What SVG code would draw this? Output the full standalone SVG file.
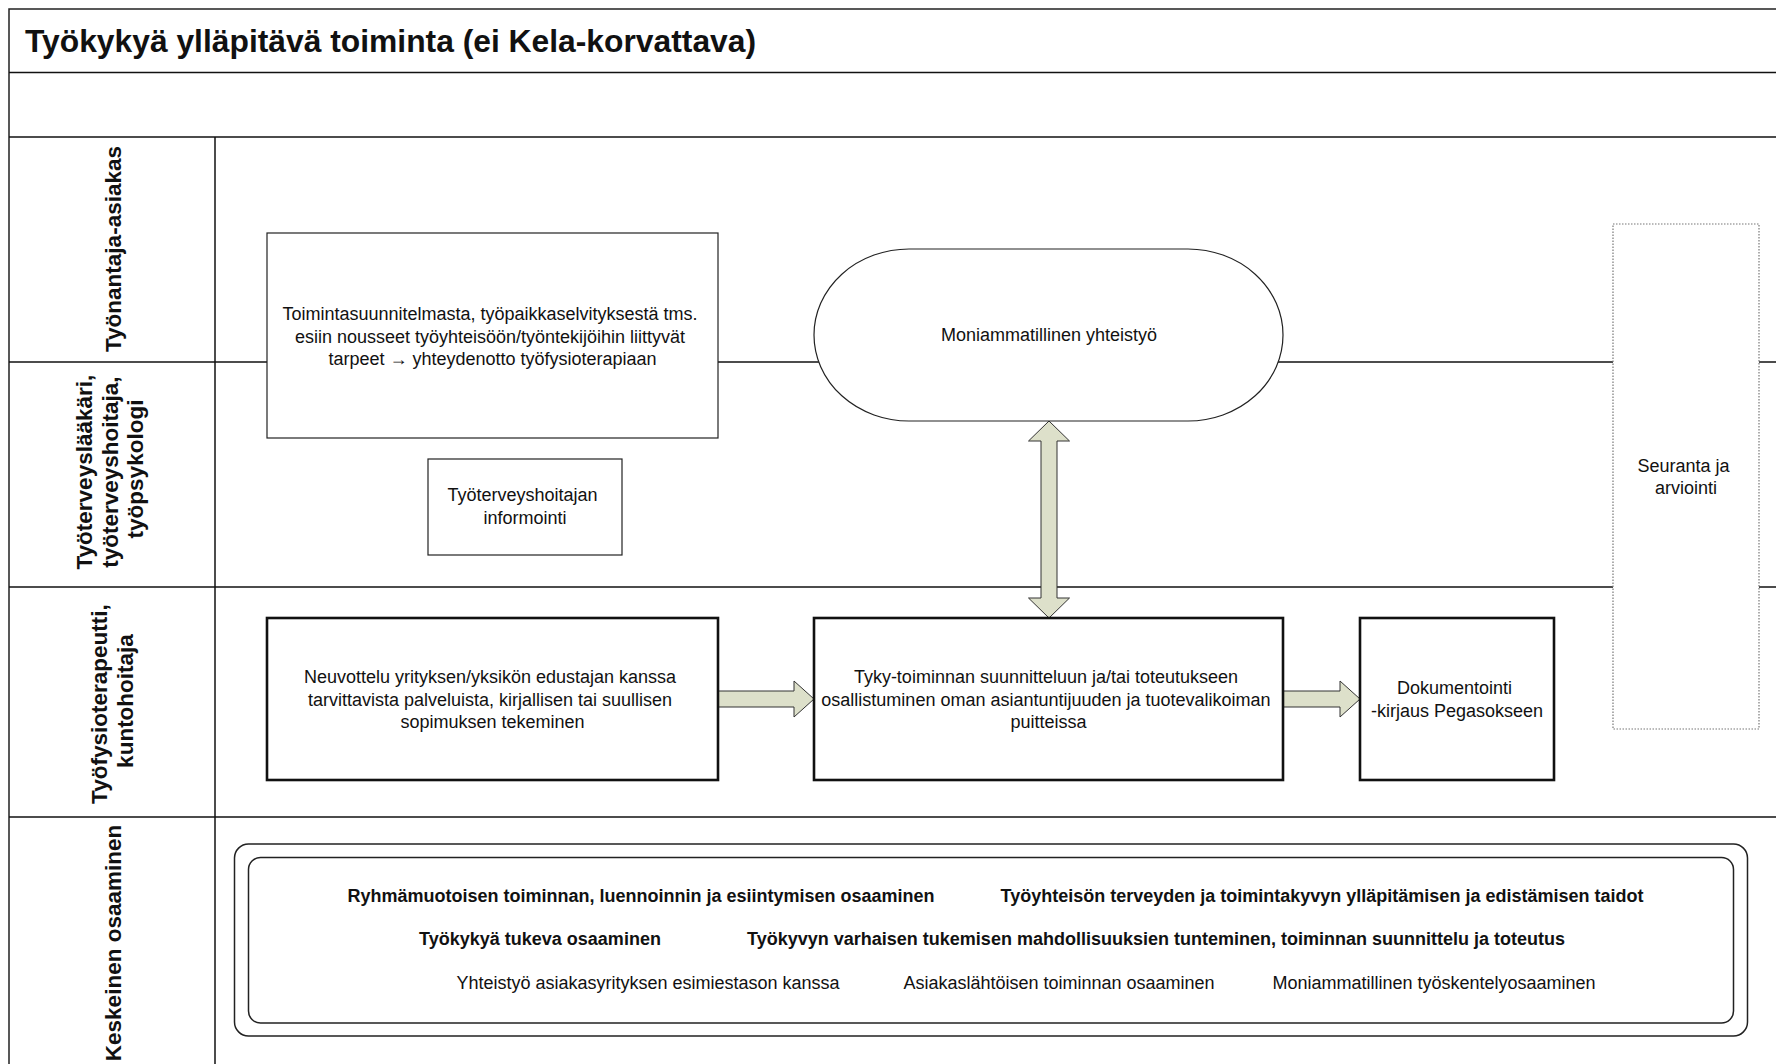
<svg xmlns="http://www.w3.org/2000/svg" width="1776" height="1064" viewBox="0 0 1776 1064">
  <style>
    .frame { fill: none; stroke: #222; stroke-width: 1.5; }
    .lane { stroke: #111; stroke-width: 1.5; }
    .box { fill: #fff; stroke: #222; stroke-width: 1.2; }
    .boxb { fill: #fff; stroke: #111; stroke-width: 2.6; }
    .dotted { fill: #fff; stroke: #777; stroke-width: 1.2; stroke-dasharray: 1.5 1.5; }
    .arrow { fill: #dde0ca; stroke: #333; stroke-width: 1; }
    .t { font-family: "Liberation Sans", Arial, sans-serif; font-size: 18px; fill: #111; text-anchor: middle; }
    .tb { font-family: "Liberation Sans", Arial, sans-serif; font-size: 18px; font-weight: bold; fill: #111; text-anchor: middle; }
    .lbl { font-family: "Liberation Sans", Arial, sans-serif; font-size: 22.5px; font-weight: bold; fill: #111; text-anchor: middle; }
    .title { font-family: "Liberation Sans", Arial, sans-serif; font-size: 31.8px; font-weight: bold; fill: #111; }
  </style>

  <rect width="1776" height="1064" fill="#fff"/>

  <!-- pool frame, title bar, header band and lane dividers -->
  <g id="pool">
    <rect class="frame" x="9" y="9" width="1800" height="1100"/>
    <line class="lane" x1="9" y1="72.5" x2="1776" y2="72.5"/>
    <line class="lane" x1="9" y1="137" x2="1776" y2="137"/>
    <line class="lane" x1="215" y1="137" x2="215" y2="1064"/>
    <line class="lane" x1="9" y1="362" x2="1776" y2="362"/>
    <line class="lane" x1="9" y1="587" x2="1776" y2="587"/>
    <line class="lane" x1="9" y1="817" x2="1776" y2="817"/>
    <text class="title" x="25" y="52">Työkykyä ylläpitävä toiminta (ei Kela-korvattava)</text>
  </g>

  <!-- lane headings -->
  <g id="lane-labels">
    <text class="lbl" transform="translate(121,249) rotate(-90)">Työnantaja-asiakas</text>
    <text class="lbl" transform="translate(92,469) rotate(-90)">
      <tspan x="0" y="0">Työterveyslääkäri,</tspan>
      <tspan x="0" y="25.5">työterveyshoitaja,</tspan>
      <tspan x="0" y="51">työpsykologi</tspan>
    </text>
    <text class="lbl" transform="translate(107,701) rotate(-90)">
      <tspan x="0" y="0">Työfysioterapeutti,</tspan>
      <tspan x="0" y="25.5">kuntohoitaja</tspan>
    </text>
    <text class="lbl" transform="translate(121,943) rotate(-90)">Keskeinen osaaminen</text>
  </g>

  <!-- connectors -->
  <g id="connectors">
    <!-- two-way block arrow between the meeting and the Tyky task -->
    <path class="arrow" d="M1049,421 L1069.5,441 L1057,441 L1057,598 L1069.5,598 L1049,618 L1028.5,598 L1041,598 L1041,441 L1028.5,441 Z"/>
    <!-- block arrow: negotiation to Tyky task -->
    <path class="arrow" d="M718,691 L794,691 L794,681 L814,699 L794,717 L794,707 L718,707 Z"/>
    <!-- block arrow: Tyky task to documentation -->
    <path class="arrow" d="M1283,691 L1340,691 L1340,681 L1360,699 L1340,717 L1340,707 L1283,707 Z"/>
  </g>

  <g id="needs">
    <rect class="box" x="267" y="233" width="451" height="205"/>
    <text class="t" x="492.5" y="320">
      <tspan x="492.5" y="320">Toimintasuunnitelmasta, työpaikkaselvityksestä tms.</tspan>
      <tspan x="492.5" y="342.5">esiin nousseet työyhteisöön/työntekijöihin liittyvät</tspan>
      <tspan x="492.5" y="365">tarpeet → yhteydenotto työfysioterapiaan</tspan>
    </text>
  </g>

  <g id="nurse-info">
    <rect class="box" x="428" y="459" width="194" height="96"/>
    <text class="t" x="525" y="501">
      <tspan x="525" y="501">Työterveyshoitajan</tspan>
      <tspan x="525" y="524">informointi</tspan>
    </text>
  </g>

  <g id="collaboration">
    <rect class="box" x="814" y="249" width="469" height="172" rx="95" ry="86"/>
    <text class="t" x="1049" y="341">Moniammatillinen yhteistyö</text>
  </g>

  <g id="follow-up">
    <rect class="dotted" x="1613" y="224" width="146" height="505"/>
    <text class="t" x="1686" y="472">
      <tspan x="1686" y="472">Seuranta ja</tspan>
      <tspan x="1686" y="494">arviointi</tspan>
    </text>
  </g>

  <g id="negotiation">
    <rect class="boxb" x="267" y="618" width="451" height="162"/>
    <text class="t" x="492.5" y="683">
      <tspan x="492.5" y="683">Neuvottelu yrityksen/yksikön edustajan kanssa</tspan>
      <tspan x="492.5" y="705.5">tarvittavista palveluista, kirjallisen tai suullisen</tspan>
      <tspan x="492.5" y="728">sopimuksen tekeminen</tspan>
    </text>
  </g>

  <g id="tyky-task">
    <rect class="boxb" x="814" y="618" width="469" height="162"/>
    <text class="t" x="1048.5" y="683">
      <tspan x="1048.5" y="683">Tyky-toiminnan suunnitteluun ja/tai toteutukseen</tspan>
      <tspan x="1048.5" y="705.5">osallistuminen oman asiantuntijuuden ja tuotevalikoiman</tspan>
      <tspan x="1048.5" y="728">puitteissa</tspan>
    </text>
  </g>

  <g id="documentation">
    <rect class="boxb" x="1360" y="618" width="194" height="162"/>
    <text class="t" x="1457" y="694">
      <tspan x="1457" y="694">Dokumentointi</tspan>
      <tspan x="1457" y="716.5">-kirjaus Pegasokseen</tspan>
    </text>
  </g>

  <g id="competences">
    <rect class="frame" x="234.5" y="844" width="1513" height="192" rx="14"/>
    <rect class="frame" x="248.5" y="857.5" width="1485" height="165.5" rx="12"/>
    <text class="tb" x="641" y="902">Ryhmämuotoisen toiminnan, luennoinnin ja esiintymisen osaaminen</text>
    <text class="tb" x="1322" y="902">Työyhteisön terveyden ja toimintakyvyn ylläpitämisen ja edistämisen taidot</text>
    <text class="tb" x="540" y="945">Työkykyä tukeva osaaminen</text>
    <text class="tb" x="1156" y="945">Työkyvyn varhaisen tukemisen mahdollisuuksien tunteminen, toiminnan suunnittelu ja toteutus</text>
    <text class="t" x="648" y="989">Yhteistyö asiakasyrityksen esimiestason kanssa</text>
    <text class="t" x="1059" y="989">Asiakaslähtöisen toiminnan osaaminen</text>
    <text class="t" x="1434" y="989">Moniammatillinen työskentelyosaaminen</text>
  </g>
</svg>
